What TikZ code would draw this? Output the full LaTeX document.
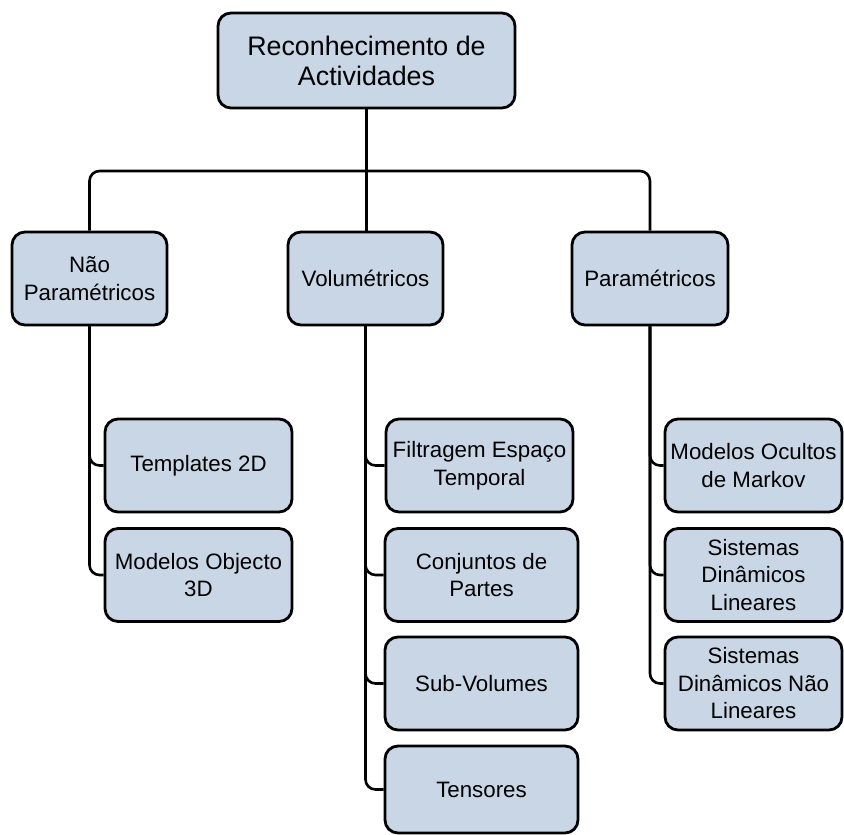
\documentclass[tikz,border=0pt]{standalone}
\usepackage{fontspec}
\setmainfont{Liberation Sans}
\definecolor{boxfill}{RGB}{201,214,229}
\begin{document}
\begin{tikzpicture}[x=1pt,y={(0,-1pt)},
  box/.style={draw=black, fill=boxfill, line width=2.8pt, rounded corners=13pt,
    align=center, inner sep=0pt, minimum height=93pt,
    font=\fontsize{22.3}{27.5}\selectfont},
  topbox/.style={box, minimum width=297pt, minimum height=95pt,
    font=\fontsize{26.8}{30}\selectfont},
  catbox/.style={box, minimum width=155pt},
  link/.style={draw=black, line width=2.6pt, rounded corners=10pt}]
\useasboundingbox (0,0) rectangle (844,835);

% root
\node[topbox] (root) at (366.5,60.5) {Reconhecimento de\\Actividades};

% first level
\node[catbox] (np)  at (89.5,278.5)  {Não\\Paramétricos};
\node[catbox] (vol) at (365.5,278.5) {Volumétricos};
\node[catbox, minimum width=156pt] (pa) at (650,278.5) {Paramétricos};

% non-parametric methods
\node[box, minimum width=187pt] (t2d)  at (198.5,465.5) {Templates 2D};
\node[box, minimum width=187pt] (mo3d) at (198.5,575)   {Modelos Objecto\\3D};

% volumetric methods
\node[box, minimum width=187pt] (fil) at (479.5,465.5) {Filtragem Espaço\\Temporal};
\node[box, minimum width=193pt] (con) at (481.5,575)   {Conjuntos de\\Partes};
\node[box, minimum width=193pt] (sub) at (481.5,683.5) {Sub-Volumes};
\node[box, minimum width=193pt, minimum height=87pt] (ten) at (481.5,789.5) {Tensores};

% parametric methods
\node[box, minimum width=177pt] (mom)  at (753.5,465.5) {Modelos Ocultos\\de Markov};
\node[box, minimum width=177pt] (sdl)  at (753.5,575)   {Sistemas\\Dinâmicos\\Lineares};
\node[box, minimum width=177pt] (sdnl) at (753.5,683.5) {Sistemas\\Dinâmicos Não\\Lineares};

% connectors
\coordinate (bar) at (366,171);
\draw[link] (root.south) -- (root.south |- vol.north);
\draw[link] (np.north) |- (bar) -| (pa.north);

\draw[link] (np.south) |- (t2d.west);
\draw[link] (np.south) |- (mo3d.west);

\draw[link] (vol.south) |- (fil.west);
\draw[link] (vol.south) |- (con.west);
\draw[link] (vol.south) |- (sub.west);
\draw[link] (vol.south) |- (ten.west);

\draw[link] (pa.south) |- (mom.west);
\draw[link] (pa.south) |- (sdl.west);
\draw[link] (pa.south) |- (sdnl.west);
\end{tikzpicture}
\end{document}
